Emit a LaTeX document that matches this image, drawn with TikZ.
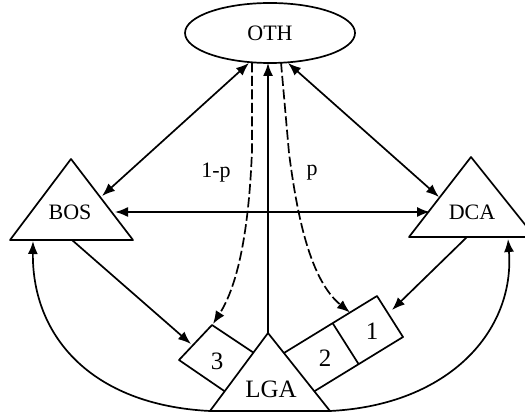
\documentclass[tikz,border=0pt]{standalone}
\usepackage{fontspec}
\setmainfont{Liberation Serif}
\usetikzlibrary{arrows.meta,shapes.geometric}
\begin{document}
\begin{tikzpicture}[x=1pt,y=-1pt,
  line width=1.7pt, line join=round,
  arr/.style={-{Latex[length=13pt,width=10pt]}},
  darr/.style={{Latex[length=13pt,width=10pt]}-{Latex[length=13pt,width=10pt]}},
  lbl/.style={font=\fontsize{22}{24}\selectfont, inner sep=0pt},
  biglbl/.style={font=\fontsize{25}{27}\selectfont, inner sep=0pt},
  dsh/.style={dash pattern=on 10pt off 3.5pt},
  tri/.style={draw, fill=white},
  boxshape/.style={draw, fill=white},
]
\useasboundingbox (0,0) rectangle (525,414);

% OTH ellipse
\node[draw, ellipse, minimum width=170pt, minimum height=60pt, inner sep=0pt, lbl] (OTH) at (270,33) {OTH};
\coordinate (othL) at (249,63);
\coordinate (othA) at (252,62.5);
\coordinate (othM) at (268,63);
\coordinate (othB) at (281,62.5);
\coordinate (othR) at (288,63);

% boxes (drawn before LGA so that they tuck under it)
\draw[boxshape] (212,325) -- (266,361) -- (233,397) -- (179,360) -- cycle;
\draw[boxshape] (377,296) -- (403,337) -- (305,397) -- (279,356) -- cycle;
\draw (332.6,323.1) -- (358.6,364.1);
\node[biglbl] (n3) at (217,361) {3};
\node[biglbl] (n2) at (325,358) {2};
\node[biglbl] (n1) at (372,331) {1};
\coordinate (box3T) at (213,324);
\coordinate (box3L) at (191,344);
\coordinate (boxTop) at (350,312.5);
\coordinate (box1R) at (392,310);

% triangles
\draw[tri] (10,240) -- (71,159) -- (133,240) -- cycle;
\node[lbl] (BOS) at (70,212.5) {BOS};
\draw[tri] (409,237) -- (471,157) -- (535,237) -- cycle;
\node[lbl] (DCA) at (472,212) {DCA};
\draw[tri] (210,411) -- (268,333) -- (330,411) -- cycle;
\node[biglbl] (LGA) at (271,389) {LGA};

\coordinate (bosR) at (102,196);
\coordinate (bosH) at (115,212);
\coordinate (bosB) at (72,240);
\coordinate (bosBL) at (33,241);
\coordinate (dcaL) at (439,197);
\coordinate (dcaH) at (430,212);
\coordinate (dcaB) at (467,237);
\coordinate (dcaBR) at (508,239);
\coordinate (lgaTop) at (268,333);
\coordinate (lgaBL) at (210,411);
\coordinate (lgaBR) at (330,411);

% connectors
\draw[darr] (bosR) -- (othL);
\draw[darr] (dcaL) -- (othR);
\draw[darr] (bosH) -- (dcaH);
\draw[arr] (lgaTop) -- (othM);
\draw[arr,dsh] (othA) -- (252,150) .. controls (249,230) and (238,285) .. (box3T);
\draw[arr,dsh] (othB) -- (289,153) .. controls (297,215) and (310,280) .. (boxTop);
\draw[arr] (bosB) -- (box3L);
\draw[arr] (dcaB) -- (box1R);
\draw[arr] (lgaBL) .. controls (90,405) and (32,335) .. (bosBL);
\draw[arr] (lgaBR) .. controls (450,405) and (515,330) .. (dcaBR);

% labels
\node[lbl] (l1p) at (216,173) {1-p};
\node[lbl] (lp) at (312,173) {p};
\end{tikzpicture}
\end{document}
